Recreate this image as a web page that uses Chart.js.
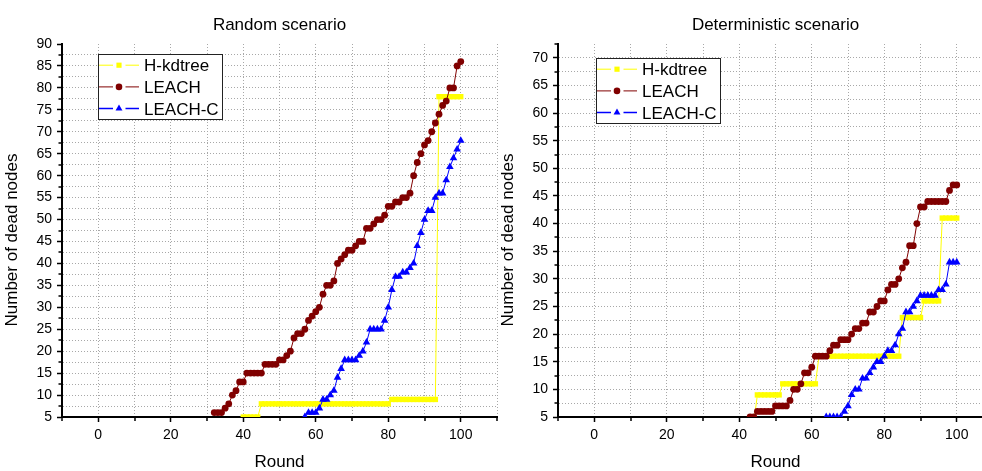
<!DOCTYPE html>
<html>
<head>
<meta charset="utf-8">
<script src="https://cdn.jsdelivr.net/npm/chart.js@4.4.0/dist/chart.umd.min.js"></script>
<style>
    html, body { margin: 0; padding: 0; background: #fff; overflow: hidden; }
    body { width: 982px; height: 471px; position: relative; }
    .panel { position: absolute; top: 0; width: 505px; height: 471px; }
    #leftPanel { left: 0; }
    #rightPanel { left: 496px; }
</style>
</head>
<body>
<div class="panel" id="leftPanel"><canvas id="randomChart" width="505" height="471"></canvas></div>
<div class="panel" id="rightPanel"><canvas id="deterministicChart" width="505" height="471"></canvas></div>
<script>
// Axis ticks
var roundTicks = [-10, 0, 10, 20, 30, 40, 50, 60, 70, 80, 90, 100, 110];
var roundLabels = [0, 20, 40, 60, 80, 100];
var randomYLabels = [5, 10, 15, 20, 25, 30, 35, 40, 45, 50, 55, 60, 65, 70, 75, 80, 85, 90];
var detYLabels = [5, 10, 15, 20, 25, 30, 35, 40, 45, 50, 55, 60, 65, 70];

var seriesNames = ['H-kdtree', 'LEACH', 'LEACH-C'];

// Random scenario (first round of each series + dead nodes per round)
var randHkdtreeStart = 40;
var randHkdtree = [
    5, 5, 5, 5, 5,
    8, 8, 8, 8, 8, 8, 8, 8, 8, 8, 8, 8, 8, 8, 8, 8, 8, 8,
    8, 8, 8, 8, 8, 8, 8, 8, 8, 8, 8, 8, 8, 8, 8, 8, 8, 8,
    9, 9, 9, 9, 9, 9, 9, 9, 9, 9, 9, 9, 9,
    78, 78, 78, 78, 78, 78, 78
];
var randLeachStart = 32;
var randLeach = [
    6, 6, 6, 7, 8, 10, 11, 13, 13, 15,
    15, 15, 15, 15, 17, 17, 17, 17, 18, 18,
    19, 20, 23, 24, 24, 25, 27, 28, 29, 30,
    33, 35, 35, 36, 40, 41, 42, 43, 43, 44,
    45, 45, 48, 48, 49, 50, 50, 51, 53, 53,
    54, 54, 55, 55, 56, 60, 63, 65, 67, 68,
    70, 72, 74, 76, 77, 80, 80, 85, 86
];
var randLeachCStart = 57;
var randLeachC = [
    5, 6, 6, 6, 7, 9, 9, 10, 11, 14,
    16, 18, 18, 18, 18, 19, 20, 22, 25, 25,
    25, 25, 27, 30, 34, 37, 37, 38, 38, 39,
    40, 44, 47, 50, 52, 52, 55, 56, 56, 59,
    62, 64, 66, 68
];

// Deterministic scenario
var detHkdtreeStart = 44;
var detHkdtree = [
    4,
    9, 9, 9, 9, 9, 9, 9,
    11, 11, 11, 11, 11, 11, 11, 11, 11, 11,
    16, 16, 16, 16, 16, 16, 16, 16, 16, 16, 16, 16,
    16, 16, 16, 16, 16, 16, 16, 16, 16, 16, 16,
    23, 23, 23, 23, 23, 23,
    26, 26, 26, 26, 26,
    41, 41, 41, 41, 41
];
var detLeachStart = 43;
var detLeach = [
    5, 5, 6, 6, 6, 6, 6, 7, 7, 7,
    7, 8, 10, 10, 11, 13, 13, 14, 16, 16,
    16, 16, 17, 18, 18, 19, 19, 19, 20, 21,
    21, 22, 22, 24, 24, 25, 26, 26, 28, 29,
    29, 30, 32, 33, 36, 36, 40, 43, 43, 44,
    44, 44, 44, 44, 44, 46, 47, 47
];
var detLeachCStart = 64;
var detLeachC = [
    5, 5, 5, 5, 5, 6, 7, 9, 10, 10,
    12, 12, 13, 14, 15, 15, 16, 17, 17, 18,
    20, 21, 24, 24, 25, 26, 27, 27, 27, 27,
    27, 28, 28, 29, 33, 33, 33
];

var FONT = "'Liberation Sans', Arial, sans-serif";
var GRID = '#a8a8a8';
var colors = ['#ffff00', '#800000', '#0000ff'];
var markers = ['rect', 'circle', 'triangle'];
var markerSize = [3.8, 3.4, 4.4];

function toPoints(start, values) {
    return values.map(function(v, i) {
        return { x: start + i, y: v };
    });
}

function drawMarker(ctx, style, cx, cy, r) {
    ctx.beginPath();
    if (style === 'rect') {
        ctx.rect(cx - r * 0.72, cy - r * 0.72, r * 1.44, r * 1.44);
    } else if (style === 'circle') {
        ctx.arc(cx, cy, r, 0, Math.PI * 2);
    } else {
        ctx.moveTo(cx, cy - r);
        ctx.lineTo(cx + r * 0.866, cy + r * 0.5);
        ctx.lineTo(cx - r * 0.866, cy + r * 0.5);
        ctx.closePath();
    }
    ctx.fill();
}

// minor ticks, legend box and y-axis title
function makeDecor(yLabels, legend) {
    return {
        id: 'decor',
        afterDraw: function(chart) {
            var ctx = chart.ctx;
            var xs = chart.scales.x, ys = chart.scales.y;
            ctx.save();

            ctx.strokeStyle = '#000';
            ctx.lineWidth = 1.5;
            ctx.beginPath();
            xs.ticks.forEach(function(t) {
                if (roundLabels.indexOf(t.value) < 0) {
                    var px = Math.round(xs.getPixelForValue(t.value));
                    ctx.moveTo(px, xs.top);
                    ctx.lineTo(px, xs.top + 4);
                }
            });
            ys.ticks.forEach(function(t) {
                if (yLabels.indexOf(t.value) < 0) {
                    var py = Math.round(ys.getPixelForValue(t.value));
                    ctx.moveTo(ys.right, py);
                    ctx.lineTo(ys.right - 3.5, py);
                }
            });
            ctx.stroke();

            // legend
            ctx.fillStyle = '#fff';
            ctx.fillRect(legend.x, legend.y, legend.w, legend.h);
            ctx.strokeStyle = '#222';
            ctx.lineWidth = 1;
            ctx.strokeRect(legend.x + 0.5, legend.y + 0.5, legend.w, legend.h);
            ctx.font = '17px ' + FONT;
            ctx.textBaseline = 'alphabetic';
            ctx.textAlign = 'left';
            var rows = [11.2, 32.9, 54.6];
            var legendSize = [3.6, 3.3, 4];
            seriesNames.forEach(function(name, i) {
                var cy = legend.y + rows[i];
                ctx.strokeStyle = colors[i];
                ctx.lineWidth = i === 2 ? 1.5 : 1;
                ctx.beginPath();
                ctx.moveTo(legend.x + 1, cy);
                ctx.lineTo(legend.x + 15, cy);
                ctx.moveTo(legend.x + 27.5, cy);
                ctx.lineTo(legend.x + 41, cy);
                ctx.stroke();
                ctx.fillStyle = colors[i];
                drawMarker(ctx, markers[i], legend.x + 21, cy, legendSize[i]);
                ctx.fillStyle = '#000';
                ctx.fillText(name, legend.x + 46, cy + 6.2);
            });

            // y-axis title
            ctx.save();
            ctx.translate(16.7, 240);
            ctx.rotate(-Math.PI / 2);
            ctx.textAlign = 'center';
            ctx.fillStyle = '#000';
            ctx.fillText('Number of dead nodes', 0, 0);
            ctx.restore();

            ctx.restore();
        }
    };
}

function makeChart(canvasId, title, yMax, yLabels, hkd, leach, leachC, legend) {
    var yTicks = [];
    yLabels.forEach(function(v) {
        yTicks.push(v);
        if (v + 2.5 <= yMax) yTicks.push(v + 2.5);
    });

    function dataset(i, points, order) {
        return {
            label: seriesNames[i],
            data: points,
            order: order,
            borderColor: colors[i],
            backgroundColor: colors[i],
            borderWidth: 1,
            tension: 0,
            pointStyle: markers[i],
            pointRadius: markerSize[i],
            pointHoverRadius: markerSize[i],
            pointBorderWidth: 0,
            pointBackgroundColor: colors[i]
        };
    }

    return new Chart(document.getElementById(canvasId), {
        type: 'line',
        data: {
            datasets: [
                dataset(0, hkd, 3),
                dataset(1, leach, 2),
                dataset(2, leachC, 1)
            ]
        },
        options: {
            responsive: false,
            animation: false,
            devicePixelRatio: 1,
            layout: { padding: { left: 0, right: 8, top: 0, bottom: 0 } },
            plugins: {
                legend: { display: false },
                tooltip: { enabled: false },
                title: {
                    display: true,
                    text: title,
                    fullSize: false,
                    color: '#000',
                    font: { family: FONT, size: 17, weight: 'normal', lineHeight: 1.2 },
                    padding: { top: 15, bottom: 8.6 }
                }
            },
            scales: {
                x: {
                    type: 'linear',
                    min: -10,
                    max: 110,
                    afterBuildTicks: function(s) {
                        s.ticks = roundTicks.map(function(v) { return { value: v }; });
                    },
                    afterFit: function(s) { s.height = 54; },
                    ticks: {
                        autoSkip: false,
                        maxRotation: 0,
                        padding: 5,
                        color: '#000',
                        font: { family: FONT, size: 14 },
                        callback: function(v) {
                            return roundLabels.indexOf(v) >= 0 ? String(v) : '';
                        }
                    },
                    grid: {
                        color: GRID,
                        lineWidth: 1,
                        tickLength: 5,
                        tickWidth: 1.5,
                        tickColor: function(c) {
                            return c.tick && roundLabels.indexOf(c.tick.value) >= 0 ? '#000' : 'rgba(0,0,0,0)';
                        }
                    },
                    border: { display: true, color: '#000', width: 2, dash: [1, 2] },
                    title: {
                        display: true,
                        text: 'Round',
                        color: '#000',
                        font: { family: FONT, size: 17, lineHeight: 1 },
                        padding: { top: 0, bottom: 0 }
                    }
                },
                y: {
                    type: 'linear',
                    min: 5,
                    max: yMax,
                    afterBuildTicks: function(s) {
                        s.ticks = yTicks.map(function(v) { return { value: v }; });
                    },
                    afterFit: function(s) { s.width = 62; },
                    ticks: {
                        autoSkip: false,
                        padding: 5,
                        color: '#000',
                        font: { family: FONT, size: 14 },
                        callback: function(v) {
                            return yLabels.indexOf(v) >= 0 ? String(v) : '';
                        }
                    },
                    grid: {
                        color: function(c) {
                            return c.tick && c.tick.value >= yMax ? 'rgba(0,0,0,0)' : GRID;
                        },
                        lineWidth: 1,
                        tickLength: 5,
                        tickWidth: 1.5,
                        tickColor: function(c) {
                            return c.tick && yLabels.indexOf(c.tick.value) >= 0 ? '#000' : 'rgba(0,0,0,0)';
                        }
                    },
                    border: { display: true, color: '#000', width: 2, dash: [1, 2] }
                }
            }
        },
        plugins: [makeDecor(yLabels, legend)]
    });
}

makeChart('randomChart', 'Random scenario', 90, randomYLabels,
    toPoints(randHkdtreeStart, randHkdtree),
    toPoints(randLeachStart, randLeach),
    toPoints(randLeachCStart, randLeachC),
    { x: 98, y: 54, w: 124, h: 65 });

makeChart('deterministicChart', 'Deterministic scenario', 72.5, detYLabels,
    toPoints(detHkdtreeStart, detHkdtree),
    toPoints(detLeachStart, detLeach),
    toPoints(detLeachCStart, detLeachC),
    { x: 100, y: 58, w: 124, h: 65 });
</script>
</body>
</html>
